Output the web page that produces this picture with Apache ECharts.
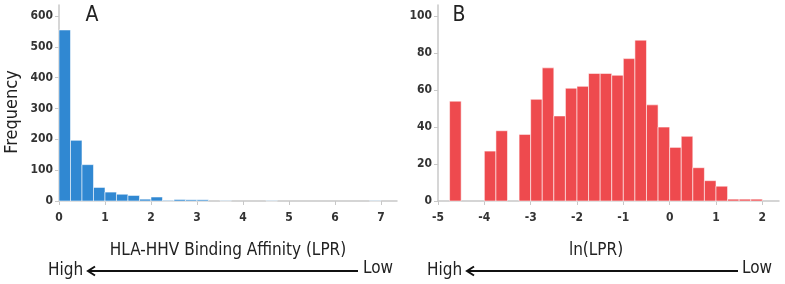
<!DOCTYPE html>
<html>
<head>
<meta charset="utf-8">
<script src="https://cdn.jsdelivr.net/npm/echarts@6/dist/echarts.min.js"></script>
<style>
	html, body { margin: 0; padding: 0; background: #fff; }
	#main { width: 785px; height: 284px; }
</style>
</head>
<body>
<div id="main"></div>
<script>
	// histogram A: binding affinity (LPR), bin width 0.25
	var binLoA = [0, 0.25, 0.5, 0.75, 1, 1.25, 1.5, 1.75, 2, 2.25, 2.5, 2.75, 3, 3.5, 4.5, 6.75];
	var countsA = [555, 197, 118, 44, 29, 22, 18, 6, 13, 2, 5, 4, 4, 1, 1, 1];

	// histogram B: ln(LPR), bin width 0.25
	var binLoB = [-4.75, -4, -3.75, -3.25, -3, -2.75, -2.5, -2.25, -2, -1.75, -1.5, -1.25, -1, -0.75,
		-0.5, -0.25, 0, 0.25, 0.5, 0.75, 1, 1.25, 1.5, 1.75];
	var countsB = [54, 27, 38, 36, 55, 72, 46, 61, 62, 69, 69, 68, 77, 87,
		52, 40, 29, 35, 18, 11, 8, 1, 1, 1];

	var binSize = 0.25;
	var font = '"DejaVu Sans Condensed", "Liberation Sans Narrow", sans-serif';

	function toData(lo, counts) {
		var out = [];
		for (var i = 0; i < lo.length; i++) {
			out.push([lo[i], lo[i] + binSize, counts[i]]);
		}
		return out;
	}

	function renderBin(params, api) {
		var p0 = api.coord([api.value(0), api.value(2)]);
		var p1 = api.coord([api.value(1), 0]);
		return {
			type: 'rect',
			shape: { x: p0[0], y: p0[1], width: p1[0] - p0[0], height: p1[1] - p0[1] },
			style: api.style()
		};
	}

	function axis(extra) {
		var base = {
			type: 'value',
			axisLine: { onZero: false, lineStyle: { color: '#c8c8c8', width: 1.5 } },
			axisTick: { lineStyle: { color: '#c8c8c8' }, length: 4 },
			splitLine: { show: false },
			axisLabel: { color: '#333', fontFamily: font, fontSize: 12, fontWeight: 'bold', showMaxLabel: false }
		};
		for (var k in extra) {
			if (k === 'axisLabel') {
				base.axisLabel.margin = extra.axisLabel.margin;
			} else {
				base[k] = extra[k];
			}
		}
		return base;
	}

	function arrow(x0, x1, y) {
		return [
			{ type: 'line', shape: { x1: x0 + 1, y1: y, x2: x1, y2: y }, style: { stroke: '#111', lineWidth: 2 } },
			{ type: 'polyline', shape: { points: [[x0 + 7, y - 4.5], [x0, y], [x0 + 7, y + 4.5]] },
				style: { stroke: '#111', lineWidth: 2, fill: null } }
		];
	}

	function label(text, x, y, size, align) {
		return {
			type: 'text', x: x, y: y,
			style: { text: text, fill: '#222', font: '500 ' + size + 'px ' + font, align: align || 'center', verticalAlign: 'middle' }
		};
	}

	var chart = echarts.init(document.getElementById('main'));
	var option = {
		animation: false,
		grid: [
			{ left: 59, right: 388, top: 5, bottom: 83 },
			{ left: 438, right: 6, top: 5, bottom: 83 }
		],
		xAxis: [
			axis({ gridIndex: 0, min: 0, max: 7.35, interval: 1, axisLabel: { margin: 11 } }),
			axis({ gridIndex: 1, min: -5, max: 2.36, interval: 1, axisLabel: { margin: 11 } })
		],
		yAxis: [
			axis({ gridIndex: 0, min: 0, max: 636, interval: 100, axisLabel: { margin: 6 } }),
			axis({ gridIndex: 1, min: 0, max: 106, interval: 20, axisLabel: { margin: 6 } })
		],
		series: [
			{
				type: 'custom', xAxisIndex: 0, yAxisIndex: 0,
				renderItem: renderBin, encode: { x: [0, 1], y: 2 },
				itemStyle: { color: '#3088d2', borderColor: 'rgba(255,255,255,0.55)', borderWidth: 1 },
				data: toData(binLoA, countsA)
			},
			{
				type: 'custom', xAxisIndex: 1, yAxisIndex: 1,
				renderItem: renderBin, encode: { x: [0, 1], y: 2 },
				itemStyle: { color: '#ee4a4e', borderColor: 'rgba(255,255,255,0.55)', borderWidth: 1 },
				data: toData(binLoB, countsB)
			}
		],
		graphic: [
			label('A', 92, 16, 21),
			label('B', 459, 16, 21),
			{
				type: 'text', x: 12, y: 112, rotation: Math.PI / 2,
				style: { text: 'Frequency', fill: '#222', font: '500 18px ' + font, align: 'center', verticalAlign: 'middle' }
			},
			label('HLA-HHV Binding Affinity (LPR)', 228, 251, 17),
			label('ln(LPR)', 596, 251, 17),
			label('High', 48, 271, 17, 'left'),
			label('Low', 363, 269, 17, 'left'),
			label('High', 427, 271, 17, 'left'),
			label('Low', 742, 269, 17, 'left')
		].concat(arrow(88, 358, 271)).concat(arrow(467, 738, 271))
	};
	chart.setOption(option);
</script>
</body>
</html>
